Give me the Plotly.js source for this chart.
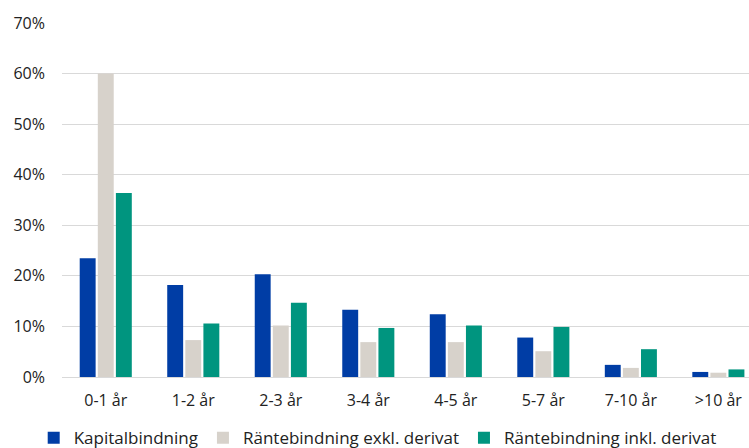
<!DOCTYPE html>
<html>
<head>
<meta charset="utf-8">
<script src="https://cdn.plot.ly/plotly-3.0.1.min.js"></script>
<style>html,body{margin:0;padding:0;background:#fff;}#chart{width:749px;height:448px;}</style>
</head>
<body>
<div id="chart"></div>
<script>
var categories = ["0-1 år", "1-2 år", "2-3 år", "3-4 år", "4-5 år", "5-7 år", "7-10 år", ">10 år"];
var kapitalbindning = [23.5, 18.2, 20.3, 13.3, 12.4, 7.8, 2.4, 1.0];
var ranteExkl = [60.0, 7.3, 10.2, 6.9, 6.9, 5.1, 1.8, 0.85];
var ranteInkl = [36.4, 10.6, 14.7, 9.7, 10.2, 9.9, 5.5, 1.5];
var seriesNames = ["Kapitalbindning", "Räntebindning exkl. derivat", "Räntebindning inkl. derivat"];
var colors = ["#003DA5", "#D7D2CB", "#00957F"];
var yTicks = [0, 10, 20, 30, 40, 50, 60, 70];
var yTickText = ["0%", "10%", "20%", "30%", "40%", "50%", "60%", "70%"];

var series = [kapitalbindning, ranteExkl, ranteInkl];
var traces = series.map(function (vals, i) {
  return {
    type: "bar",
    x: categories,
    y: vals,
    name: seriesNames[i],
    marker: { color: colors[i] },
    hoverinfo: "none"
  };
});

var layout = {
  width: 749,
  height: 448,
  margin: { l: 62, r: 0, t: 23, b: 71 },
  paper_bgcolor: "#fff",
  plot_bgcolor: "#fff",
  font: { family: "'Open Sans', sans-serif", size: 16, color: "#222" },
  barmode: "group",
  bargap: 0.38,
  bargroupgap: 0.12,
  showlegend: true,
  legend: {
    orientation: "h",
    x: 0.045,
    xref: "container",
    xanchor: "left",
    y: 0.022,
    yref: "container",
    yanchor: "middle",
    font: { size: 17, color: "#222" },
    itemwidth: 30,
    traceorder: "normal"
  },
  xaxis: {
    type: "category",
    range: [-0.5, 7.35],
    showgrid: false,
    showline: false,
    ticks: "",
    tickfont: { size: 16 },
    ticklabelstandoff: 12
  },
  yaxis: {
    range: [0, 70],
    tickvals: yTicks,
    ticktext: yTickText,
    showgrid: true,
    gridcolor: "#d9d9d9",
    gridwidth: 1,
    zeroline: true,
    zerolinecolor: "#d9d9d9",
    zerolinewidth: 1,
    showline: false,
    ticks: "",
    ticklabelstandoff: 16,
    tickfont: { size: 16 }
  }
};

Plotly.newPlot("chart", traces, layout, { displayModeBar: false, staticPlot: true });
</script>
</body>
</html>
